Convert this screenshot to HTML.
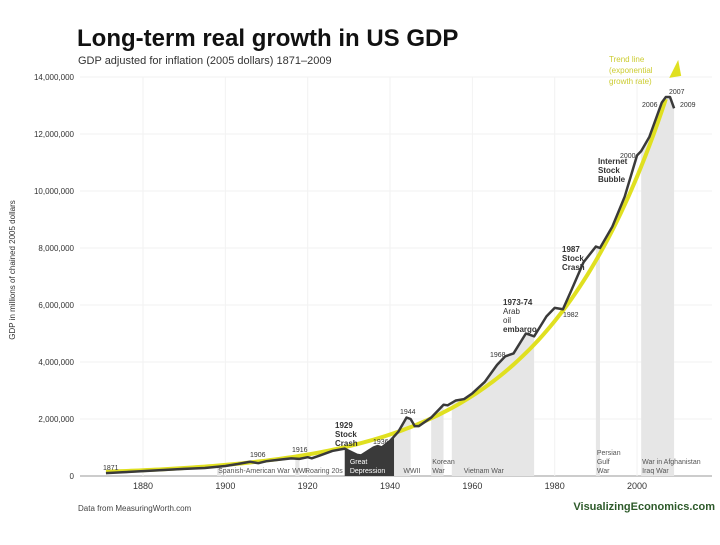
<!DOCTYPE html>
<html><head><meta charset="utf-8"><style>
body{margin:0;background:#fff;width:720px;height:540px;overflow:hidden;font-family:"Liberation Sans",sans-serif}
svg text{font-family:"Liberation Sans",sans-serif}
</style></head><body>
<svg id="chart" width="720" height="540" viewBox="0 0 720 540">
<text x="77" y="46" font-size="24" font-weight="bold" fill="#111">Long-term real growth in US GDP</text>
<text x="78" y="64" font-size="11" fill="#333">GDP adjusted for inflation (2005 dollars) 1871–2009</text>
<text transform="translate(15,270) rotate(-90)" text-anchor="middle" font-size="8" fill="#333">GDP in millions of chained 2005 dollars</text>
<g id="grid"></g><g id="bands"></g><g id="lines"></g><g id="labels"></g>
<text x="78" y="511" font-size="8" fill="#444">Data from MeasuringWorth.com</text>
<text x="715" y="510" text-anchor="end" font-size="11" font-weight="bold" fill="#2d5a2a">VisualizingEconomics.com</text>
</svg>
<script>
const years=[1871,1875,1880,1885,1890,1895,1900,1903,1906,1908,1910,1913,1916,1918,1920,1921,1923,1926,1929,1930,1932,1933,1936,1937,1938,1940,1942,1944,1945,1946,1947,1950,1953,1954,1956,1958,1960,1963,1966,1968,1970,1973,1975,1978,1980,1982,1984,1987,1990,1991,1994,1997,2000,2001,2003,2005,2006,2007,2008,2009];
const gdp=[0.10,0.13,0.17,0.21,0.25,0.28,0.35,0.42,0.50,0.45,0.52,0.57,0.62,0.60,0.66,0.62,0.72,0.88,0.96,0.88,0.74,0.72,1.00,1.05,1.00,1.23,1.55,2.05,2.00,1.75,1.75,2.05,2.50,2.48,2.65,2.70,2.90,3.30,3.90,4.20,4.30,5.00,4.90,5.60,5.90,5.85,6.50,7.50,8.05,8.00,8.75,9.80,11.25,11.40,11.90,12.70,13.10,13.30,13.30,12.90];
const yTicks=[0,2,4,6,8,10,12,14];
const xTicks=[1880,1900,1920,1940,1960,1980,2000];
const bandNames=[["Spanish-American War"],["WWI"],["Great","Depression"],["WWII"],["Korean","War"],["Vietnam War"],["Persian","Gulf","War"],["War in Afghanistan","Iraq War"]];
const bandStart=[1898,1917,1929,1941,1950,1955,1990,2001];
const bandEnd=[1899,1918,1941,1945,1953,1975,1991,2009];
const bandLabelX=[1898,1916,1930,1943,1950,1955,1990,2001];
const trendStart=1871,trendEnd=2010,trendV0=0.15,trendV1=14.6;
const X=y=>143+(y-1880)*4.117, Y=v=>476-v*28.5;
const NS="http://www.w3.org/2000/svg";
function mk(p,t,a){const e=document.createElementNS(NS,t);for(const k in a)e.setAttribute(k,a[k]);document.getElementById(p).appendChild(e);return e;}
function val(yr){for(let i=0;i<years.length-1;i++){if(yr>=years[i]&&yr<=years[i+1]){const f=(yr-years[i])/(years[i+1]-years[i]);return gdp[i]+f*(gdp[i+1]-gdp[i]);}}return gdp[gdp.length-1];}
yTicks.forEach(t=>{
 const l=mk('grid','line',{x1:80,x2:712,y1:Y(t),y2:Y(t),stroke:t?'#f2f2f2':'#999','stroke-width':1});
 
 const tx=mk('grid','text',{x:74,y:Y(t)+3,'text-anchor':'end','font-size':8,fill:'#333'});tx.textContent=t?(t*1000000).toLocaleString('en-US'):'0';
 
});
xTicks.forEach(t=>{
 const l=mk('grid','line',{x1:X(t),x2:X(t),y1:77,y2:476,stroke:'#f2f2f2'});
 
 const tx=mk('grid','text',{x:X(t),y:489,'text-anchor':'middle','font-size':9,fill:'#333'});tx.textContent=t;
 
});
bandStart.forEach((s,i)=>{
 const e=bandEnd[i];let pts=[[X(s),476]];
 pts.push([X(s),Y(val(s))]);years.forEach((y,j)=>{if(y>s&&y<e)pts.push([X(y),Y(gdp[j])]);});
 pts.push([X(e),Y(val(e))]);pts.push([X(e),476]);
 const p=mk('bands','polygon',{points:pts.map(q=>q.join(',')).join(' '),fill:i==2?'#3a3a3a':'#e6e6e6'});
 
 const lines=bandNames[i];
 lines.forEach((s2,k)=>{
  const tx=mk('labels','text',{x:X(bandLabelX[i])+(i==5?12:1),y:473-(lines.length-1-k)*9,'font-size':7,fill:i==2?'#fff':'#555'});tx.textContent=s2;
  
 });
});
const rt=mk('labels','text',{x:305,y:473,'font-size':7,fill:'#555'});rt.textContent='Roaring 20s';

let tp=[];for(let y=trendStart;y<=trendEnd-3;y+=1){tp.push(X(y)+','+Y(trendV0*Math.pow(trendV1/trendV0,(y-trendStart)/(trendEnd-trendStart))));}
const tr=mk('lines','polyline',{points:tp.join(' '),fill:'none',stroke:'#e0e020','stroke-width':4});

const ar=mk('lines','polygon',{points:`${X(trendEnd)},${Y(trendV1)} ${X(trendEnd)-9},${Y(trendV1)+18} ${X(trendEnd)+3},${Y(trendV1)+16}`,fill:'#e0e020'});

const gl=mk('lines','polyline',{points:years.map((y,i)=>X(y)+','+Y(gdp[i])).join(' '),fill:'none',stroke:'#3a3a3a','stroke-width':2.5,'stroke-linejoin':'round'});

const notes=[["1871",103,470,7,0],["1906",250,457,7,0],["1916",292,452,7,0],["1929",335,428,8,1],["Stock",335,437,8,1],["Crash",335,446,8,1],["1936",373,444,7,0],["1944",400,414,7,0],["1968",490,357,7,0],["1973-74",503,305,8,1],["Arab",503,314,8,0],["oil",503,323,8,0],["embargo",503,332,8,1],["1982",563,317,7,0],["1987",562,252,8,1],["Stock",562,261,8,1],["Crash",562,270,8,1],["2000",620,158,7,0],["Internet",598,164,8,1],["Stock",598,173,8,1],["Bubble",598,182,8,1],["2006",642,107,7,0],["2007",669,94,7,0],["2009",680,107,7,0]];
notes.forEach(n=>{const t=mk('labels','text',{x:n[1],y:n[2],'font-size':n[3],'font-weight':n[4]?'bold':'normal',fill:'#333'});t.textContent=n[0];});
["Trend line","(exponential","growth rate)"].forEach((s,i)=>{const t=mk('labels','text',{x:609,y:62+i*11,'font-size':8,fill:'#cccc30'});t.textContent=s;});
</script>
</body></html>
